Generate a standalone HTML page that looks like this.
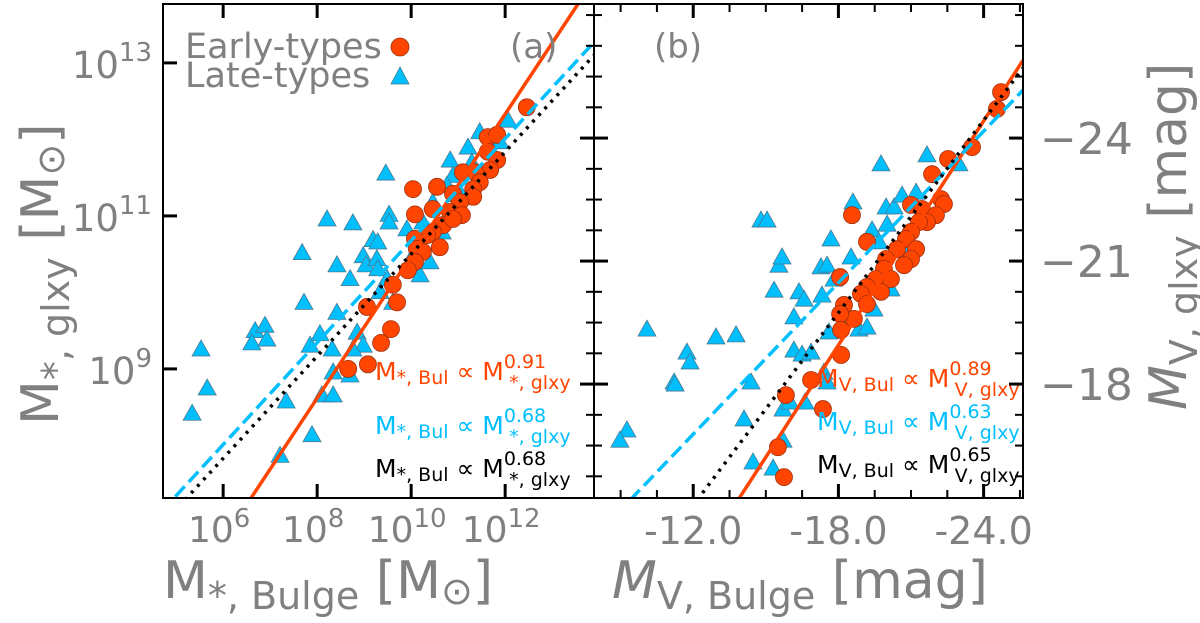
<!DOCTYPE html>
<html><head><meta charset="utf-8"><style>
body{margin:0;background:#fff;}
svg{display:block;font-family:"DejaVu Sans","Liberation Sans",sans-serif;}
</style></head><body>
<div style="position:relative;width:1200px;height:623px;">
<svg id="fig" width="1200" height="623" viewBox="0 0 1200 623" style="position:absolute;left:0;top:0">
<g id="gl"></g>
<g id="gr"></g>
</svg>
<script>
// ---- Panel (a) data: log10 stellar masses ----
const aLateX=[5.53,5.66,5.34,6.68,6.89,6.93,6.61,7.68,7.72,8.21,8.76,9.46,8.42,8.70,8.98,9.04,9.19,9.29,9.53,9.53,9.27,9.29,9.49,9.34,9.61,8.42,7.85,8.06,8.32,8.85,8.98,8.76,8.34,8.70,8.10,8.34,7.34,7.89,7.21,10.19,9.91,10.25,10.83,11.21,10.89,11.29,10.76,12.06,11.89,10.40,10.66,10.46,11.46,11.04,10.08];
const aLateY=[9.26,8.75,8.42,9.50,9.57,9.39,9.34,10.52,9.87,10.96,10.91,11.56,10.36,10.18,10.48,10.36,10.69,10.66,11.02,10.92,10.44,10.31,10.18,10.01,9.87,9.74,9.31,9.46,9.26,9.48,9.31,9.26,8.96,8.92,8.66,8.66,8.58,8.14,7.87,10.23,10.83,10.92,11.73,11.90,11.53,11.70,11.40,12.25,11.97,10.40,10.79,11.18,12.10,11.31,10.53];
const aEarlyX=[12.46,11.63,11.83,11.63,11.83,11.68,11.10,11.36,11.46,11.32,11.32,10.04,10.55,10.89,11.04,10.46,10.08,10.83,11.08,10.68,10.46,10.34,10.08,10.61,10.12,10.25,10.08,9.93,9.61,9.70,9.06,9.57,9.36,9.08,8.66,10.89];
const aEarlyY=[12.42,12.03,12.06,11.84,11.73,11.60,11.57,11.57,11.44,11.35,11.25,11.35,11.38,11.29,11.18,11.09,11.02,11.05,11.01,10.88,10.79,10.75,10.70,10.59,10.57,10.53,10.40,10.29,10.10,9.87,9.81,9.52,9.34,9.06,9.00,10.96];
const aFitEarly=[[6.57,7.29],[13.55,13.77]];
const aFitLate=[[4.98,7.33],[13.89,13.27]];
const aFitAll=[[5.19,7.29],[13.89,13.10]];
const aXTicks=[6,8,10,12];
const aYTicks=[9,11,13];
// ---- Panel (b) data: V-band magnitudes ----
const bLateX=[-10.09,-11.21,-11.74,-11.87,-12.94,-13.77,-14.39,-14.80,-15.05,-15.34,-15.54,-15.67,-16.16,-16.37,-16.58,-16.16,-16.50,-16.87,-17.40,-17.28,-17.53,-17.69,-17.82,-17.32,-17.61,-18.52,-18.60,-18.85,-19.18,-19.39,-19.68,-19.76,-19.97,-20.01,-20.30,-20.63,-21.21,-21.66,-22.98,-19.47,-20.17,-20.92,-18.35,-9.26,-8.97,-11.25,-14.10,-15.71,-16.00,-16.62,-14.47,-15.30,-15.71,-17.53];
const bLateY=[-19.34,-18.05,-18.78,-18.54,-19.15,-19.20,-18.05,-22.00,-22.00,-20.29,-20.90,-21.10,-19.64,-20.25,-20.07,-18.83,-18.73,-18.78,-18.29,-20.86,-20.90,-21.54,-20.56,-20.17,-19.27,-21.10,-22.44,-19.34,-19.39,-21.76,-21.47,-23.37,-22.32,-21.90,-22.32,-22.61,-22.68,-23.59,-23.37,-19.83,-20.32,-21.27,-19.68,-16.88,-16.63,-18.00,-17.15,-17.39,-17.56,-17.56,-16.10,-15.95,-16.63,-18.05];
const bEarlyX=[-24.72,-24.55,-23.52,-22.53,-21.87,-22.24,-22.36,-21.00,-21.45,-22.03,-21.66,-21.33,-21.00,-20.79,-20.42,-21.21,-21.00,-20.71,-19.97,-19.88,-19.55,-20.17,-19.76,-19.18,-18.93,-19.18,-18.64,-18.56,-19.18,-18.07,-18.23,-18.07,-18.11,-18.11,-16.87,-15.83,-17.36,-15.50,-15.75];
const bEarlyY=[-25.12,-24.71,-23.78,-23.49,-23.12,-22.51,-22.39,-22.37,-22.27,-22.12,-21.95,-21.95,-21.71,-21.54,-21.29,-21.29,-21.05,-20.90,-21.05,-20.81,-20.56,-20.56,-20.25,-20.37,-20.20,-19.95,-19.59,-22.12,-21.47,-20.61,-19.93,-19.71,-19.32,-18.71,-18.10,-17.73,-17.39,-16.46,-15.73];
const bFitEarly=[[-13.85,-15.17],[-25.63,-25.9]];
const bFitLate=[[-9.39,-15.17],[-25.63,-25.17]];
const bFitAll=[[-12.16,-15.17],[-25.63,-25.71]];
const bXTicks=[-12,-18,-24];
const bYTicks=[-24,-21,-18];

const NS='http://www.w3.org/2000/svg';
function mk(parent,tag,attrs,text){const e=document.createElementNS(NS,tag);for(const k in attrs)e.setAttribute(k,attrs[k]);if(text!==undefined)e.textContent=text;parent.appendChild(e);return e;}
const ORANGE='#ff4500',CYAN='#00bfff',GRAY='#808080';
const TOP=4,BOT=498;
const ax=v=>163+(v-4.72)*47, ay=v=>TOP+(13.77-v)*76.5;
const bx=v=>594+(-7.9-v)*24.2, by=v=>TOP+(v+27.27)*41;

const fig=document.getElementById('fig');
const gl=document.getElementById('gl'), gr=document.getElementById('gr');
function clip(id,x,w){const d=mk(fig,'clipPath',{id:id});mk(d,'rect',{x:x,y:TOP,width:w,height:BOT-TOP});}
clip('ca',163,431);clip('cb',594,429);
const la=mk(gl,'g',{'clip-path':'url(#ca)'}), lb=mk(gr,'g',{'clip-path':'url(#cb)'});

function fits(g,X,Y,fe,fl,fa,pre){
  let e=mk(g,'line',{x1:X(fe[0][0]),y1:Y(fe[0][1]),x2:X(fe[1][0]),y2:Y(fe[1][1]),stroke:ORANGE,'stroke-width':3.5});
  
  
  e=mk(g,'line',{x1:X(fl[0][0]),y1:Y(fl[0][1]),x2:X(fl[1][0]),y2:Y(fl[1][1]),stroke:CYAN,'stroke-width':3.5,'stroke-dasharray':'14,6'});
  
  
  e=mk(g,'line',{x1:X(fa[0][0]),y1:Y(fa[0][1]),x2:X(fa[1][0]),y2:Y(fa[1][1]),stroke:'#000','stroke-width':3.5,'stroke-dasharray':'3,6'});
  
  
}
function tri(g,x,y){return mk(g,'polygon',{points:`${x},${y-9} ${x-9},${y+7} ${x+9},${y+7}`,fill:CYAN,stroke:'#4a7a90','stroke-width':0.8});}
function circ(g,x,y){return mk(g,'circle',{cx:x,cy:y,r:8.5,fill:ORANGE,stroke:'#a03010','stroke-width':0.8});}
function points(g,X,Y,lx,ly,ex,ey,pre){
  for(let i=0;i<lx.length;i++){const t=tri(g,X(lx[i]),Y(ly[i]));
    
    }
  for(let i=0;i<ex.length;i++){const c=circ(g,X(ex[i]),Y(ey[i]));
    
    }
}
points(la,ax,ay,aLateX,aLateY,aEarlyX,aEarlyY,'a-');
fits(la,ax,ay,aFitEarly,aFitLate,aFitAll,'a-');
points(lb,bx,by,bLateX,bLateY,bEarlyX,bEarlyY,'b-');
fits(lb,bx,by,bFitEarly,bFitLate,bFitAll,'b-');

let f=mk(gl,'rect',{x:163,y:TOP,width:431,height:BOT-TOP,fill:'none',stroke:'#000','stroke-width':2});


f=mk(gr,'rect',{x:594,y:TOP,width:429,height:BOT-TOP,fill:'none',stroke:'#000','stroke-width':2});



for(const t of aXTicks){const x=ax(t);
  mk(gl,'line',{x1:x,y1:BOT,x2:x,y2:BOT-14,stroke:'#000','stroke-width':3});
  mk(gl,'line',{x1:x,y1:TOP,x2:x,y2:TOP+14,stroke:'#000','stroke-width':3});
  const l=mk(gl,'text',{x:x-4,y:542,'text-anchor':'middle',fill:GRAY,'font-size':36});
  
  
  mk(l,'tspan',{},'10');mk(l,'tspan',{dy:-15,'font-size':26},String(t));}
for(const t of aYTicks){const y=ay(t);
  mk(gl,'line',{x1:163,y1:y,x2:177,y2:y,stroke:'#000','stroke-width':3});
  const l=mk(gl,'text',{x:152,y:y+15,'text-anchor':'end',fill:GRAY,'font-size':37});
  
  
  mk(l,'tspan',{},'10');mk(l,'tspan',{dy:-17,'font-size':26},String(t));}
for(let v=-9;v>=-25.5;v-=1.5){const x=bx(v);const major=bXTicks.includes(v);
  mk(gr,'line',{x1:x,y1:BOT,x2:x,y2:BOT-(major?14:8),stroke:'#000','stroke-width':major?3:2});
  mk(gr,'line',{x1:x,y1:TOP,x2:x,y2:TOP+(major?14:8),stroke:'#000','stroke-width':major?3:2});}
for(const t of bXTicks){const l=mk(gr,'text',{x:bx(t),y:544,'text-anchor':'middle',fill:GRAY,'font-size':38},t.toFixed(1));
  
  }
for(let v=-27;v<=-15.5;v+=0.75){const y=by(v);const major=bYTicks.includes(v);
  mk(gr,'line',{x1:594,y1:y,x2:594+(major?14:8),y2:y,stroke:'#000','stroke-width':major?3:2});
  mk(gr,'line',{x1:1023,y1:y,x2:1023-(major?14:8),y2:y,stroke:'#000','stroke-width':major?3:2});
  mk(gr,'line',{x1:594,y1:y,x2:594-(major?14:8),y2:y,stroke:'#000','stroke-width':major?3:2});}
for(const t of bYTicks){const l=mk(gr,'text',{x:1040,y:by(t)+16,fill:GRAY,'font-size':44},'\u2212'+Math.abs(t));
  
  }
</script>
<svg width="1200" height="623" style="position:absolute;left:0;top:0">
<g font-family="DejaVu Sans, Liberation Sans, sans-serif">
<text x="185" y="58" fill="#808080" font-size="35">Early-types</text>
<circle cx="400" cy="47" r="9" fill="#ff4500" stroke="#a03010" stroke-width="0.8"/>
<text x="185" y="87" fill="#808080" font-size="35">Late-types</text>
<polygon points="400,67 391,84 409,84" fill="#00bfff" stroke="#4a7a90" stroke-width="0.8"/>
<text x="510" y="58" fill="#808080" font-size="34">(a)</text>
<text x="654" y="58" fill="#808080" font-size="34">(b)</text>

<text x="375" y="380" fill="#ff4500" font-size="25">M<tspan font-size="19" dy="4">*, Bul</tspan><tspan dy="-4"> ∝ M</tspan><tspan font-size="19" dy="-12">0.91</tspan><tspan font-size="19" dx="-37" dy="21">*, glxy</tspan></text>
<text x="375" y="434" fill="#00bfff" font-size="25">M<tspan font-size="19" dy="4">*, Bul</tspan><tspan dy="-4"> ∝ M</tspan><tspan font-size="19" dy="-12">0.68</tspan><tspan font-size="19" dx="-37" dy="21">*, glxy</tspan></text>
<text x="375" y="477" fill="#000" font-size="25">M<tspan font-size="19" dy="4">*, Bul</tspan><tspan dy="-4"> ∝ M</tspan><tspan font-size="19" dy="-12">0.68</tspan><tspan font-size="19" dx="-37" dy="21">*, glxy</tspan></text>

<text x="817" y="387" fill="#ff4500" font-size="25">M<tspan font-size="19" dy="4">V, Bul</tspan><tspan dy="-4"> ∝ M</tspan><tspan font-size="19" dy="-12">0.89</tspan><tspan font-size="19" dx="-37" dy="21">V, glxy</tspan></text>
<text x="817" y="430" fill="#00bfff" font-size="25">M<tspan font-size="19" dy="4">V, Bul</tspan><tspan dy="-4"> ∝ M</tspan><tspan font-size="19" dy="-12">0.63</tspan><tspan font-size="19" dx="-37" dy="21">V, glxy</tspan></text>
<text x="817" y="473" fill="#000" font-size="25">M<tspan font-size="19" dy="4">V, Bul</tspan><tspan dy="-4"> ∝ M</tspan><tspan font-size="19" dy="-12">0.65</tspan><tspan font-size="19" dx="-37" dy="21">V, glxy</tspan></text>

<text x="163" y="598" fill="#808080" font-size="52">M<tspan font-size="38" dy="11">*, Bulge</tspan><tspan dy="-11"> [M</tspan><tspan font-size="38" dy="6">⊙</tspan><tspan dy="-6">]</tspan></text>
<text transform="translate(58,425) rotate(-90)" fill="#808080" font-size="52">M<tspan font-size="38" dy="11">*, glxy</tspan><tspan dy="-11"> [M</tspan><tspan font-size="38" dy="6">⊙</tspan><tspan dy="-6">]</tspan></text>
<text x="612" y="598" fill="#808080" font-size="52"><tspan font-style="italic">M</tspan><tspan font-size="38" dy="11">V, Bulge</tspan><tspan dy="-11"> [mag]</tspan></text>
<text transform="translate(1186,410) rotate(-90)" fill="#808080" font-size="52"><tspan font-style="italic">M</tspan><tspan font-size="38" dy="11">V, glxy</tspan><tspan dy="-11"> [mag]</tspan></text>
</g></svg>
</div>
</body></html>
